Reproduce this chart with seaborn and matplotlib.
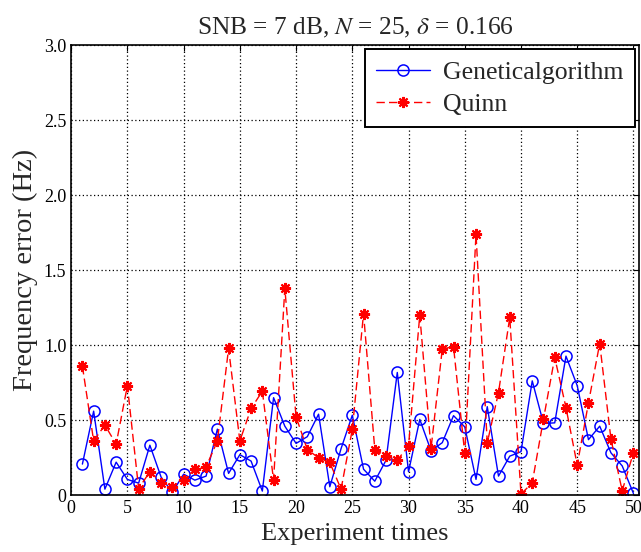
import numpy as np
import pandas as pd
import seaborn as sns
import matplotlib
matplotlib.use("Agg")
import matplotlib.pyplot as plt

# experiment index
times = list(range(1, 51))

# genetic algorithm frequency error (Hz)
ga_err = [0.207, 0.56, 0.04, 0.22, 0.105, 0.08, 0.333, 0.12, 0.018, 0.14,
          0.10, 0.127, 0.44, 0.145, 0.27, 0.227, 0.027, 0.65, 0.46, 0.345,
          0.39, 0.54, 0.056, 0.31, 0.533, 0.173, 0.093, 0.233, 0.818, 0.156,
          0.505, 0.296, 0.35, 0.53, 0.455, 0.105, 0.59, 0.127, 0.26, 0.29,
          0.762, 0.478, 0.482, 0.927, 0.73, 0.37, 0.46, 0.282, 0.195, 0.011]

# Quinn estimator frequency error (Hz)
quinn_err = [0.86, 0.362, 0.467, 0.34, 0.73, 0.044, 0.156, 0.084, 0.056, 0.10,
             0.173, 0.189, 0.36, 0.978, 0.362, 0.578, 0.693, 0.10, 1.378, 0.522,
             0.304, 0.249, 0.218, 0.04, 0.438, 1.211, 0.304, 0.26, 0.233, 0.329,
             1.202, 0.311, 0.975, 0.99, 0.278, 1.74, 0.349, 0.684, 1.185, 0.007,
             0.082, 0.507, 0.918, 0.584, 0.20, 0.615, 1.011, 0.373, 0.029, 0.284]

x_ticks = [0, 5, 10, 15, 20, 25, 30, 35, 40, 45, 50]
y_ticks = [0, 0.5, 1.0, 1.5, 2.0, 2.5, 3.0]
y_tick_labels = ["0", "0.5", "1.0", "1.5", "2.0", "2.5", "3.0"]

df = pd.DataFrame({"t": times, "ga": ga_err, "quinn": quinn_err})

sns.set_style("white")
plt.rcParams["font.family"] = ["Liberation Serif", "DejaVu Serif"]
plt.rcParams["mathtext.fontset"] = "stix"

fig = plt.figure(figsize=(6.41, 5.52), dpi=100)
ax = fig.add_axes([0.111, 0.103, 0.886, 0.815])

sns.lineplot(data=df, x="t", y="ga", ax=ax, color="blue", linewidth=1.0,
             marker="o", markersize=8, markerfacecolor="none",
             markeredgecolor="blue", markeredgewidth=1.1,
             label="Geneticalgorithm")
sns.lineplot(data=df, x="t", y="quinn", ax=ax, color="red", linewidth=1.0,
             linestyle=(0, (6, 3)), marker=(8, 2, 0), markersize=8,
             markeredgecolor="red", markeredgewidth=1.5, label="Quinn")

ax.set_xlim(0, 50.5)
ax.set_ylim(0, 3.0)
ax.set_xticks(x_ticks)
ax.set_yticks(y_ticks)
ax.set_yticklabels(y_tick_labels)
ax.tick_params(direction="in", top=True, right=True, labelsize=13, length=4,
               colors="black")
ax.grid(True, color="black", linestyle=(0, (1, 2)), linewidth=0.9)
for s in ax.spines.values():
    s.set_visible(True)
    s.set_color("black")
    s.set_linewidth(1.2)

ax.set_xlabel("Experiment times", fontsize=19)
ax.set_ylabel("Frequency error (Hz)", fontsize=20.5)
ax.set_title(r"SNB = 7 dB, $N$ = 25, $\delta$ = 0.166", fontsize=18.3, pad=8)

leg = ax.legend(loc="upper right", fontsize=18.5, frameon=True, fancybox=False,
                framealpha=1, edgecolor="black", borderaxespad=0.15,
                handlelength=2.1, handletextpad=0.5, borderpad=0.45,
                labelspacing=0.35)
leg.get_frame().set_linewidth(1.4)

fig.savefig("out.png", dpi=100)
